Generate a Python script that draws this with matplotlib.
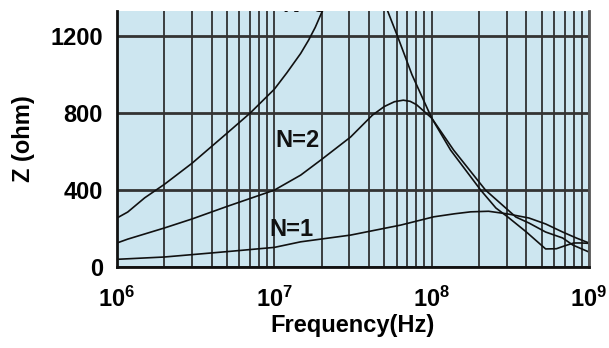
import matplotlib
matplotlib.use("Agg")
import matplotlib.pyplot as plt
import numpy as np
from matplotlib.ticker import LogLocator, FixedLocator, NullFormatter

plt.rcParams['font.family'] = ['Liberation Sans', 'DejaVu Sans']
plt.rcParams['font.weight'] = 'bold'
plt.rcParams['mathtext.fontset'] = 'custom'
plt.rcParams['mathtext.rm'] = 'Liberation Sans:bold'
plt.rcParams['mathtext.bf'] = 'Liberation Sans:bold'

# curves (frequency in Hz, impedance in ohm)
f_n1 = [1e6, 2e6, 5e6, 1e7, 1.47e7, 3.05e7, 6.35e7, 1.03e8, 1.4e8, 1.77e8,
        2.3e8, 3.05e8, 4.15e8, 5.3e8, 6.8e8, 8.3e8, 1e9]
z_n1 = [40, 52, 80, 102, 131, 166, 218, 261, 277, 287,
        290, 276, 255, 224, 182, 151, 125]

f_n2 = [1e6, 1.17e6, 2e6, 3e6, 5e6, 1e7, 1.47e7, 2e7, 3.05e7, 4.2e7, 5e7,
        5.8e7, 6.6e7, 7.3e7, 8e7, 1e8, 1.38e8, 2.2e8, 3.43e8, 4.15e8,
        5.3e8, 6.8e8, 7.9e8, 1e9]
z_n2 = [125, 145, 203, 250, 315, 400, 478, 560, 676, 790, 835,
        860, 868, 862, 845, 775, 608, 400, 260, 229,
        182, 151, 114, 78]

f_n3 = [1e6, 1.17e6, 1.5e6, 2e6, 3e6, 5e6, 7e6, 1e7, 1.2e7, 1.47e7, 1.65e7,
        1.82e7, 2.02e7, 2.5e7, 3.5e7, 4.5e7, 5.25e7, 6.07e7, 7.5e7, 1e8,
        1.32e8, 2.05e8, 2.56e8, 3.05e8, 4e8, 5.3e8, 6.2e8, 7e8, 8e8, 9e8, 1e9]
z_n3 = [255, 286, 360, 430, 540, 696, 800, 925, 1010, 1111, 1180,
        1247, 1332, 1480, 1560, 1480, 1332, 1200, 1000, 775,
        608, 400, 307, 260, 182, 94, 95, 110, 125, 125, 123]

labels = ['N=1', 'N=2', 'N=3']
label_f = [1.28e7, 1.4e7, 1.55e7]
label_z = [197, 660, 1326]

fig = plt.figure(figsize=(6.09, 3.48), dpi=100)
ax = fig.add_axes([117/609, 81/348, 472/609, 256/348])
ax.set_facecolor('#cde6f0')

ax.set_xscale('log')
ax.set_xlim(1e6, 1e9)
ax.set_ylim(0, 1332)

ax.xaxis.set_major_locator(LogLocator(base=10))
ax.xaxis.set_minor_locator(LogLocator(base=10, subs=np.arange(2, 10)))
ax.xaxis.set_minor_formatter(NullFormatter())
ax.yaxis.set_major_locator(FixedLocator([0, 400, 800, 1200]))

ax.grid(True, which='both', axis='x', color='#222222', lw=1.2)
ax.grid(True, which='major', axis='y', color='#333333', lw=2)
ax.set_axisbelow(True)

ax.plot(f_n1, z_n1, color='#111111', lw=1.2)
ax.plot(f_n2, z_n2, color='#111111', lw=1.2)
ax.plot(f_n3, z_n3, color='#111111', lw=1.2)

# the N=3 label sits above the plot top and is clipped, as in the original
for t, fx, zy in zip(labels, label_f, label_z):
    va = 'baseline' if t == 'N=3' else 'center'
    ax.text(fx, zy, t, fontsize=17, fontweight='bold', ha='center', va=va,
            color='#111111', clip_on=True)

ax.tick_params(axis='both', which='both', length=0, labelsize=17)
ax.tick_params(axis='x', pad=14)
ax.tick_params(axis='y', pad=10)

for s in ['left', 'bottom']:
    ax.spines[s].set_linewidth(2)
    ax.spines[s].set_color('#111111')
ax.spines['right'].set_linewidth(2)
ax.spines['right'].set_color('#555555')
ax.spines['top'].set_visible(False)

ax.set_xlabel('Frequency(Hz)', fontsize=17, fontweight='bold', labelpad=2)
ax.set_ylabel('Z (ohm)', fontsize=17, fontweight='bold', labelpad=11)

fig.savefig('out.png', dpi=100)
